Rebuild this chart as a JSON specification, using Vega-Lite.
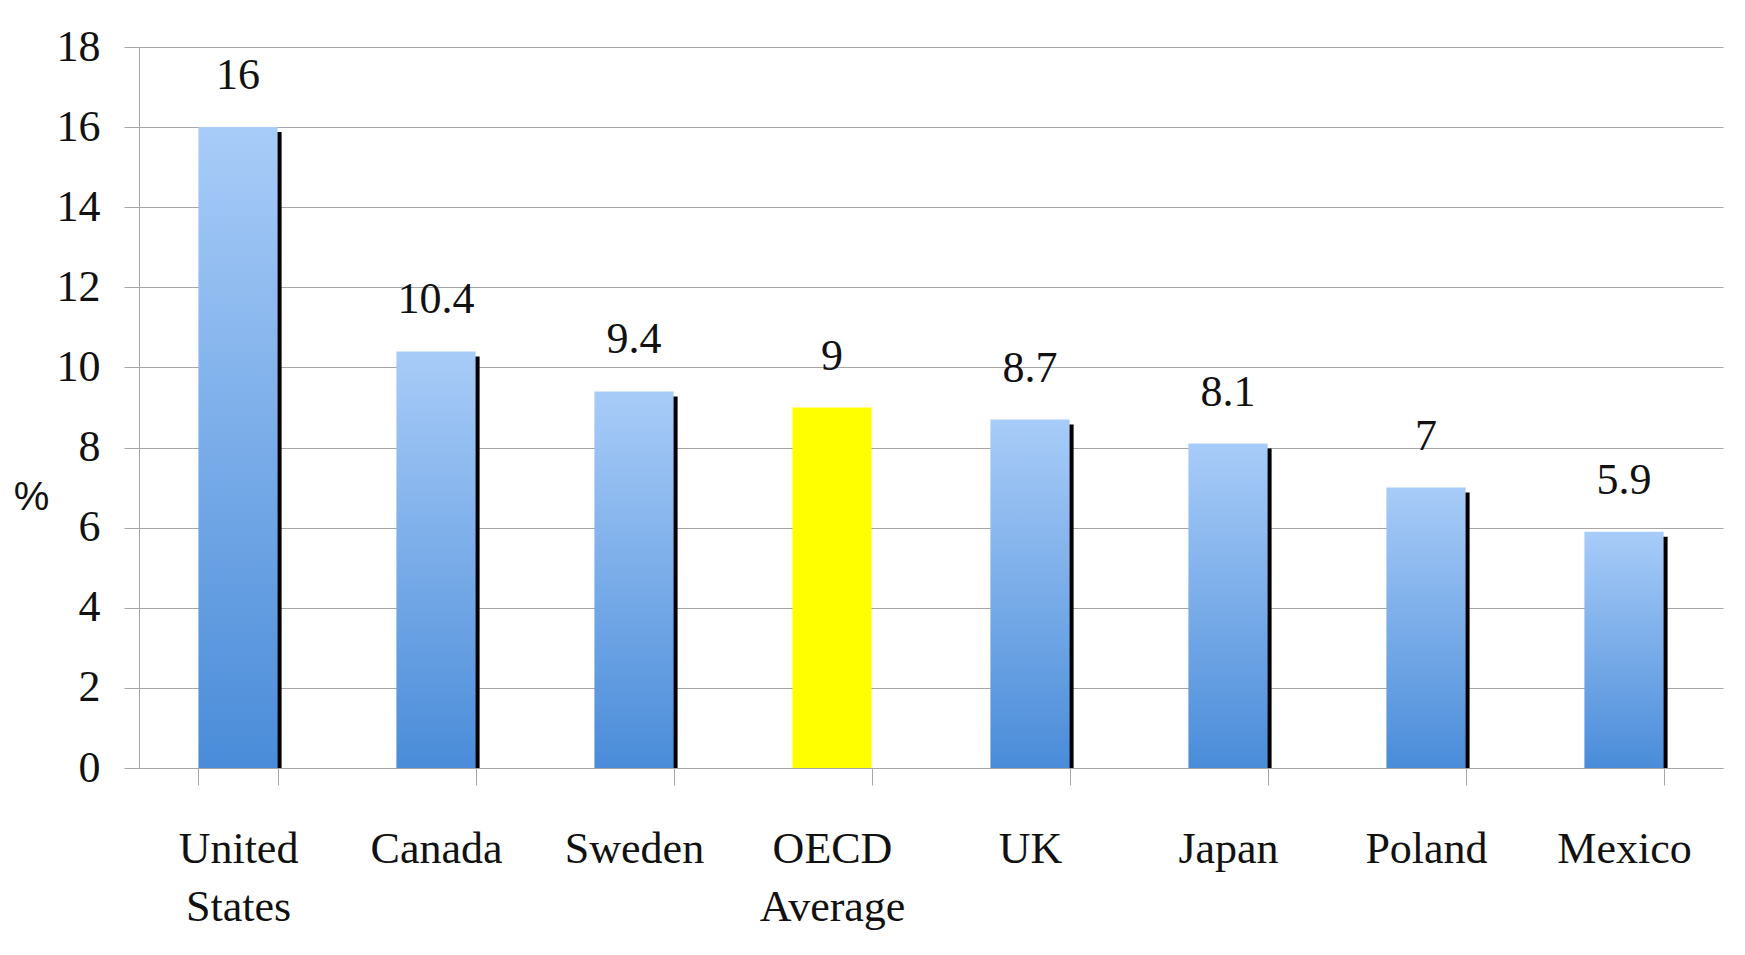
{
  "$schema": "https://vega.github.io/schema/vega-lite/v6.json",
  "width": 1584,
  "height": 721,
  "autosize": "none",
  "padding": {"left": 139, "top": 47, "right": 22, "bottom": 187},
  "background": "white",
  "config": {"view": {"stroke": null}},
  "data": {
    "values": [
      {"country": "United States", "value": 16, "type": "country"},
      {"country": "Canada", "value": 10.4, "type": "country"},
      {"country": "Sweden", "value": 9.4, "type": "country"},
      {"country": "OECD Average", "value": 9, "type": "average"},
      {"country": "UK", "value": 8.7, "type": "country"},
      {"country": "Japan", "value": 8.1, "type": "country"},
      {"country": "Poland", "value": 7, "type": "country"},
      {"country": "Mexico", "value": 5.9, "type": "country"}
    ]
  },
  "encoding": {
    "x": {
      "field": "country",
      "type": "nominal",
      "sort": ["United States", "Canada", "Sweden", "OECD Average", "UK", "Japan", "Poland", "Mexico"],
      "scale": {"paddingInner": 0.6, "paddingOuter": 0.3},
      "axis": {
        "title": null,
        "labelAngle": 0,
        "labelFont": "Liberation Serif",
        "labelFontSize": 44,
        "labelColor": "#111111",
        "labelLineHeight": 58,
        "labelPadding": 42,
        "labelExpr": "datum.label == 'United States' ? ['United', 'States'] : datum.label == 'OECD Average' ? ['OECD', 'Average'] : datum.label",
        "tickBand": "extent",
        "tickSize": 17,
        "tickColor": "#a6a6a6",
        "domainColor": "#a6a6a6",
        "labelBound": false
      }
    },
    "y": {
      "field": "value",
      "type": "quantitative",
      "scale": {"domain": [0, 18], "nice": false},
      "axis": {
        "values": [0, 2, 4, 6, 8, 10, 12, 14, 16, 18],
        "title": "%",
        "titleAngle": 0,
        "titleFont": "Liberation Sans",
        "titleFontSize": 40,
        "titleFontWeight": "normal",
        "titleColor": "#111111",
        "titleX": -108,
        "titleY": 450,
        "titleAlign": "center",
        "titleBaseline": "middle",
        "labelFont": "Liberation Serif",
        "labelFontSize": 44,
        "labelColor": "#111111",
        "labelPadding": 24,
        "tickSize": 15,
        "tickColor": "#a6a6a6",
        "domainColor": "#a6a6a6",
        "gridColor": "#a6a6a6",
        "grid": true
      }
    }
  },
  "layer": [
    {
      "transform": [{"filter": "datum.type == 'country'"}],
      "mark": {"type": "rect", "color": "#000000", "xOffset": 4, "x2Offset": 4, "yOffset": 5, "y2Offset": 0},
      "encoding": {"y2": {"datum": 0}}
    },
    {
      "mark": {"type": "bar"},
      "encoding": {
        "color": {
          "condition": {"test": "datum.type == 'average'", "value": "#ffff00"},
          "value": {
            "gradient": "linear",
            "x1": 0, "y1": 0, "x2": 0, "y2": 1,
            "stops": [
              {"offset": 0, "color": "#a8ccf8"},
              {"offset": 1, "color": "#4a8cd9"}
            ]
          }
        }
      }
    },
    {
      "mark": {
        "type": "text",
        "font": "Liberation Serif",
        "fontSize": 44,
        "color": "#111111",
        "baseline": "alphabetic",
        "dy": -38
      },
      "encoding": {"text": {"field": "value", "type": "quantitative"}}
    }
  ]
}
